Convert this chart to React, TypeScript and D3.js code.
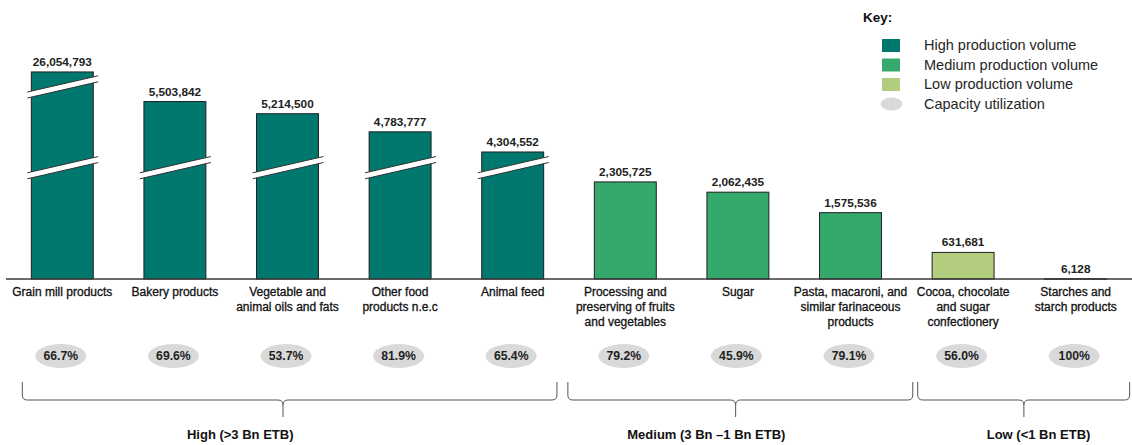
import React from "react";
import * as d3 from "d3";

// ---------- data ----------
const categories = [
  "Grain mill products",
  "Bakery products",
  "Vegetable and animal oils and fats",
  "Other food products n.e.c",
  "Animal feed",
  "Processing and preserving of fruits and vegetables",
  "Sugar",
  "Pasta, macaroni, and similar farinaceous products",
  "Cocoa, chocolate and sugar confectionery",
  "Starches and starch products",
];
const categoryLines = [
  ["Grain mill products"],
  ["Bakery products"],
  ["Vegetable and", "animal oils and fats"],
  ["Other food", "products n.e.c"],
  ["Animal feed"],
  ["Processing and", "preserving of fruits", "and vegetables"],
  ["Sugar"],
  ["Pasta, macaroni, and", "similar farinaceous", "products"],
  ["Cocoa, chocolate", "and sugar", "confectionery"],
  ["Starches and", "starch products"],
];
const volumes = [26054793, 5503842, 5214500, 4783777, 4304552, 2305725, 2062435, 1575536, 631681, 6128];
const tiers = ["high", "high", "high", "high", "high", "medium", "medium", "medium", "low", "low"];
const utilization = ["66.7%", "69.6%", "53.7%", "81.9%", "65.4%", "79.2%", "45.9%", "79.1%", "56.0%", "100%"];
const groupLabels = ["High (>3 Bn ETB)", "Medium (3 Bn \u20131 Bn ETB)", "Low (<1 Bn ETB)"];
const keyLabels = ["High production volume", "Medium production volume", "Low production volume", "Capacity utilization"];

// ---------- scale config (broken axis) ----------
const yDomain = [0, 2.5e6, 4.0e6, 5.6e6, 26.5e6];
const yHeights = [0, 105.25, 114.2, 181.5, 207.6];
const breakValues = [3.5e6, 14e6];

// brace spans in category-index units [left, tip, right], label centre
const braceSpans = [
  [-0.355, 1.96, 4.393, 1.58],
  [4.49, 5.98, 7.553, 5.72],
  [7.597, 8.54, 9.479, 8.67],
];

const colors: Record<string, string> = {
  high: "#00786E",
  medium: "#35A96C",
  low: "#B3CD7E",
};
const ellipseColor = "#D9D9D9";
const FONT = "'Liberation Sans', Arial, sans-serif";

const W = 1132;
const H = 445;
const BASE = 279;

export default function App() {
  const x = d3
    .scaleBand<string>()
    .domain(categories)
    .range([6, 1132])
    .paddingInner(0.45)
    .paddingOuter(0.225);
  const bw = x.bandwidth();
  const step = x.step();
  const y = d3
    .scaleLinear()
    .domain(yDomain)
    .range(yHeights.map((h) => BASE - h));
  const fmt = d3.format(",");
  const cx = (i: number) => (x(categories[0]) as number) + bw / 2 + i * step;

  const slope = 16.5 / 72;

  const breakMark = (x0: number, yc: number, key: string) => {
    const xl = x0 - 4;
    const xr = x0 + bw + 5;
    const xm = x0 + bw / 2;
    const yl = yc + slope * (xm - xl);
    const yr = yc - slope * (xr - xm);
    const t = 3;
    return (
      <g key={key}>
        <polygon
          points={`${xl},${yl - t} ${xr},${yr - t} ${xr},${yr + t} ${xl},${yl + t}`}
          fill="#fff"
        />
        <line x1={xl} y1={yl - t} x2={xr} y2={yr - t} stroke="#333" strokeWidth={1} />
        <line x1={xl} y1={yl + t} x2={xr} y2={yr + t} stroke="#333" strokeWidth={1} />
      </g>
    );
  };

  const bracePath = (L: number, T: number, R: number) => {
    const top = 382;
    const mid = 400;
    const bot = 417;
    const r = 5;
    return [
      `M${L},${top}`,
      `L${L},${mid - r}`,
      `Q${L},${mid} ${L + r},${mid}`,
      `L${T - r},${mid}`,
      `Q${T},${mid} ${T},${mid + r}`,
      `L${T},${bot}`,
      `M${T},${mid + r}`,
      `Q${T},${mid} ${T + r},${mid}`,
      `L${R - r},${mid}`,
      `Q${R},${mid} ${R},${mid - r}`,
      `L${R},${top}`,
    ].join(" ");
  };

  return (
    <svg
      width={W}
      height={H}
      viewBox={`0 0 ${W} ${H}`}
      style={{ position: "absolute", left: 0, top: 0, background: "#fff" }}
      fontFamily={FONT}
    >
      <rect width={W} height={H} fill="#fff" />
      {/* bars */}
      {categories.map((c, i) => {
        const x0 = x(c) as number;
        const v = volumes[i];
        const yt = y(v);
        return (
          <g key={c}>
            <rect
              x={x0}
              y={yt}
              width={bw}
              height={Math.max(0.5, BASE - yt)}
              fill={colors[tiers[i]]}
              stroke="#1f1f1f"
              strokeWidth={1}
            />
            {breakValues
              .filter((b) => v > b)
              .map((b, j) => breakMark(x0, y(b), `${c}-b${j}`))}
            <text
              x={x0 + bw / 2}
              y={yt - 6}
              textAnchor="middle"
              fontSize={11.8}
              fontWeight="bold"
              fill="#222"
            >
              {fmt(v)}
            </text>
          </g>
        );
      })}
      <line x1={6} x2={1132} y1={BASE} y2={BASE} stroke="#3a3a3a" strokeWidth={1.3} />

      {/* category labels */}
      {categories.map((c, i) => (
        <text
          key={`l-${c}`}
          textAnchor="middle"
          fontSize={12}
          fill="#111"
          stroke="#111"
          strokeWidth={0.3}
        >
          {categoryLines[i].map((ln, k) => (
            <tspan key={k} x={(x(c) as number) + bw / 2} y={296 + k * 15}>
              {ln}
            </tspan>
          ))}
        </text>
      ))}

      {/* utilization ellipses */}
      {categories.map((c, i) => {
        const ex = (x(c) as number) + bw / 2 - 1.5;
        return (
          <g key={`u-${c}`}>
            <ellipse cx={ex} cy={356} rx={25.5} ry={12} fill={ellipseColor} />
            <text x={ex} y={360} textAnchor="middle" fontSize={12.2} fontWeight="bold" fill="#222">
              {utilization[i]}
            </text>
          </g>
        );
      })}

      {/* braces */}
      {braceSpans.map(([l, t, r, lc], i) => (
        <g key={`br-${i}`}>
          <path d={bracePath(cx(l), cx(t), cx(r))} fill="none" stroke="#555" strokeWidth={1} />
          <text x={cx(lc)} y={439} textAnchor="middle" fontSize={13} fontWeight="bold" fill="#111">
            {groupLabels[i]}
          </text>
        </g>
      ))}

      {/* key */}
      <text x={863} y={22} fontSize={13.5} fontWeight="bold" fill="#111">
        Key:
      </text>
      {["high", "medium", "low"].map((t, i) => (
        <rect key={`k-${t}`} x={882} y={39 + i * 19.5} width={18} height={13} fill={colors[t]} />
      ))}
      <ellipse cx={891.5} cy={104} rx={11} ry={6.5} fill={ellipseColor} />
      {keyLabels.map((k, i) => (
        <text key={`kt-${i}`} x={924} y={50 + i * 19.5} fontSize={14.5} fill="#262626">
          {k}
        </text>
      ))}
    </svg>
  );
}
